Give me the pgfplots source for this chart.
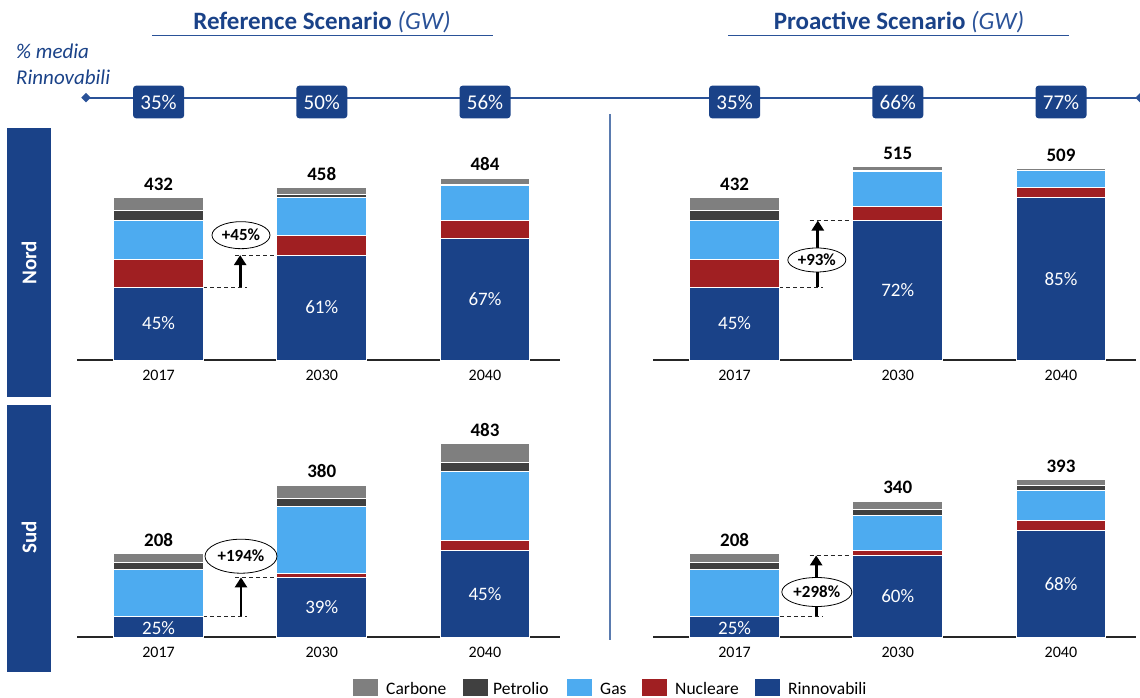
\documentclass[border=0pt]{standalone}
\usepackage{fontspec}
\setmainfont{Carlito}
\usepackage{pgfplots}
\usepackage{pgfplotstable}
\pgfplotsset{compat=1.18}
\usetikzlibrary{arrows.meta,shapes.geometric}
\definecolor{cCarb}{HTML}{7F7F7F}
\definecolor{cPetr}{HTML}{404040}
\definecolor{cGas}{HTML}{4DABF0}
\definecolor{cNuc}{HTML}{A01F22}
\definecolor{cRin}{HTML}{1A4288}
\definecolor{cLine}{HTML}{2A5298}
\definecolor{cSep}{HTML}{5A7BAF}
\newcommand{\fs}[1]{\fontsize{#1}{#1}\selectfont}

\pgfplotstableread{
x R N G P C
0 194 72 106 25 35
1 279 51 102 8 18
2 324 48 92 3 17
}\NordRef
\pgfplotstableread{
x R N G P C
0 194 72 106 25 35
1 371 37 93 4 10
2 432 27 45 1 4
}\NordPro
\pgfplotstableread{
x R N G P C
0 52 0 118 17 21
1 149 11 166 21 33
2 217 24 173 22 47
}\SudRef
\pgfplotstableread{
x R N G P C
0 52 0 118 17 21
1 204 12 87 16 21
2 267 24 75 13 14
}\SudPro

\pgfplotsset{
  panel/.style={
    scale only axis, anchor=south west, width=483pt,
    ybar stacked, bar width=0.55,
    xmin=-0.5, xmax=2.46, ymin=0,
    hide y axis,
    axis x line=bottom,
    x axis line style={-, line width=1.3pt, black!85},
    xtick={0,1,2}, xticklabels={2017,2030,2040},
    major tick length=0pt,
    xticklabel style={font=\fs{16}, yshift=-7pt},
    clip=false,
    every axis plot/.append style={draw=white, line width=1pt},
  },
  nord/.style={panel, ymax=600, height=225.6pt},
  sud/.style={panel, ymax=550, height=220pt},
}
\tikzset{
  lbl/.style={text=white, font=\fs{19}, inner sep=0},
  tot/.style={anchor=south, font=\fs{19}\bfseries, inner sep=0, yshift=7pt},
  dsh/.style={black!85, line width=1pt, dash pattern=on 4pt off 3pt},
  arr/.style={black, line width=2.8pt, -{Triangle[length=10pt,width=12pt]}},
  ell/.style={ellipse, draw=black, line width=0.8pt, fill=white, inner sep=0, font=\fs{17}\bfseries},
}

\begin{document}
\begin{tikzpicture}[x=1pt,y=1pt]
\path[use as bounding box] (0,0) rectangle (1140,697);

% titles
\node[anchor=base, text=cRin, font=\fs{25}, inner sep=0] at (322,667) {\textbf{Reference Scenario} {\color{cLine}\textit{(GW)}}};
\draw[cLine, line width=1pt] (152,661) -- (493,661);
\node[anchor=base, text=cRin, font=\fs{25}, inner sep=0] at (899,667) {\textbf{Proactive Scenario} {\color{cLine}\textit{(GW)}}};
\draw[cLine, line width=1pt] (728,661) -- (1069,661);

% % media rinnovabili
\node[anchor=base west, inner sep=0, text=cRin, font=\fs{21}\itshape] at (16,638) {\% media};
\node[anchor=base west, inner sep=0, text=cRin, font=\fs{21}\itshape] at (16,612) {Rinnovabili};

% timeline
\draw[cLine, line width=2pt] (86,599.3) -- (1140,599.3);
\fill[cLine] (86,604) -- (90.7,599.3) -- (86,594.6) -- (81.3,599.3) -- cycle;
\fill[cLine] (1140,604) -- (1144.7,599.3) -- (1140,594.6) -- (1135.3,599.3) -- cycle;
\foreach \x/\t in {158.6/35,321.8/50,485/56,734.6/35,897.8/66,1061/77}
  \node[fill=cRin, text=white, rounded corners=3pt, minimum width=51pt, minimum height=32.6pt, inner sep=0, font=\fs{21}] at (\x,595) {\t\%};

% separator
\draw[cSep, line width=1.3pt] (610,583) -- (610,57);

% row labels
\fill[cRin] (7,300) rectangle (51,569);
\fill[cRin] (7,25) rectangle (51,292);
\node[rotate=90, text=white, font=\fs{21}\bfseries] at (29,434) {Nord};
\node[rotate=90, text=white, font=\fs{21}\bfseries] at (29,160) {Sud};

% ---------- Nord Reference
\begin{axis}[nord, at={(77pt,337pt)}]
\addplot[fill=cRin] table[x=x,y=R]{\NordRef};
\addplot[fill=cNuc] table[x=x,y=N]{\NordRef};
\addplot[fill=cGas] table[x=x,y=G]{\NordRef};
\addplot[fill=cPetr] table[x=x,y=P]{\NordRef};
\addplot[fill=cCarb] table[x=x,y=C]{\NordRef};
\coordinate (a0) at (axis cs:0,97);
\coordinate (a1) at (axis cs:1,139.5);
\coordinate (a2) at (axis cs:2,162);
\coordinate (ae) at (axis cs:0.505,332);
\node[tot] at (axis cs:0,432) {432};
\node[tot] at (axis cs:1,458) {458};
\node[tot] at (axis cs:2,484) {484};
\draw[dsh] (axis cs:0.275,194) -- (axis cs:0.54,194);
\draw[dsh] (axis cs:0.47,279) -- (axis cs:0.725,279);
\draw[arr] (axis cs:0.5,194) -- (axis cs:0.5,279);
\end{axis}
\node[lbl] at (a0) {45\%};
\node[lbl] at (a1) {61\%};
\node[lbl] at (a2) {67\%};
\node[ell, minimum width=58pt, minimum height=27pt] at (ae) {+45\%};

% ---------- Nord Proactive
\begin{axis}[nord, at={(653pt,337pt)}]
\addplot[fill=cRin] table[x=x,y=R]{\NordPro};
\addplot[fill=cNuc] table[x=x,y=N]{\NordPro};
\addplot[fill=cGas] table[x=x,y=G]{\NordPro};
\addplot[fill=cPetr] table[x=x,y=P]{\NordPro};
\addplot[fill=cCarb] table[x=x,y=C]{\NordPro};
\coordinate (b0) at (axis cs:0,97);
\coordinate (b1) at (axis cs:1,185.5);
\coordinate (b2) at (axis cs:2,216);
\coordinate (be) at (axis cs:0.504,266);
\node[tot] at (axis cs:0,432) {432};
\node[tot] at (axis cs:1,515) {515};
\node[tot] at (axis cs:2,509) {509};
\draw[dsh] (axis cs:0.275,194) -- (axis cs:0.54,194);
\draw[dsh] (axis cs:0.46,371) -- (axis cs:0.725,371);
\draw[arr] (axis cs:0.51,194) -- (axis cs:0.51,371);
\end{axis}
\node[lbl] at (b0) {45\%};
\node[lbl] at (b1) {72\%};
\node[lbl] at (b2) {85\%};
\node[ell, minimum width=58pt, minimum height=24pt] at (be) {+93\%};

% ---------- Sud Reference
\begin{axis}[sud, at={(77pt,60pt)}]
\addplot[fill=cRin] table[x=x,y=R]{\SudRef};
\addplot[fill=cNuc] table[x=x,y=N]{\SudRef};
\addplot[fill=cGas] table[x=x,y=G]{\SudRef};
\addplot[fill=cPetr] table[x=x,y=P]{\SudRef};
\addplot[fill=cCarb] table[x=x,y=C]{\SudRef};
\coordinate (c0) at (axis cs:0,23);
\coordinate (c1) at (axis cs:1,74.5);
\coordinate (c2) at (axis cs:2,108.5);
\coordinate (ce) at (axis cs:0.505,202);
\node[tot] at (axis cs:0,208) {208};
\node[tot] at (axis cs:1,380) {380};
\node[tot] at (axis cs:2,483) {483};
\draw[dsh] (axis cs:0.275,52) -- (axis cs:0.54,52);
\draw[dsh] (axis cs:0.47,149) -- (axis cs:0.725,149);
\draw[arr] (axis cs:0.505,52) -- (axis cs:0.505,149);
\end{axis}
\node[lbl] at (c0) {25\%};
\node[lbl] at (c1) {39\%};
\node[lbl] at (c2) {45\%};
\node[ell, minimum width=72pt, minimum height=34pt] at (ce) {+194\%};

% ---------- Sud Proactive
\begin{axis}[sud, at={(653pt,60pt)}]
\addplot[fill=cRin] table[x=x,y=R]{\SudPro};
\addplot[fill=cNuc] table[x=x,y=N]{\SudPro};
\addplot[fill=cGas] table[x=x,y=G]{\SudPro};
\addplot[fill=cPetr] table[x=x,y=P]{\SudPro};
\addplot[fill=cCarb] table[x=x,y=C]{\SudPro};
\coordinate (d0) at (axis cs:0,23);
\coordinate (d1) at (axis cs:1,102);
\coordinate (d2) at (axis cs:2,133.5);
\coordinate (de) at (axis cs:0.504,112.5);
\node[tot] at (axis cs:0,208) {208};
\node[tot] at (axis cs:1,340) {340};
\node[tot] at (axis cs:2,393) {393};
\draw[dsh] (axis cs:0.278,52) -- (axis cs:0.54,52);
\draw[dsh] (axis cs:0.46,204) -- (axis cs:0.725,204);
\draw[arr] (axis cs:0.5,52) -- (axis cs:0.5,204);
\end{axis}
\node[lbl] at (d0) {25\%};
\node[lbl] at (d1) {60\%};
\node[lbl] at (d2) {68\%};
\node[ell, minimum width=70pt, minimum height=29pt] at (de) {+298\%};

% legend
\foreach \xs/\xt/\c/\t in {353/386/cCarb/Carbone,463/493/cPetr/Petrolio,567/600/cGas/Gas,642/675/cNuc/Nucleare,755/788/cRin/Rinnovabili}{
  \fill[\c] (\xs,1) rectangle (\xs+25,18);
  \node[anchor=base west, inner sep=0, font=\fs{17.5}] at (\xt,2.5) {\t};
}
\end{tikzpicture}
\end{document}
